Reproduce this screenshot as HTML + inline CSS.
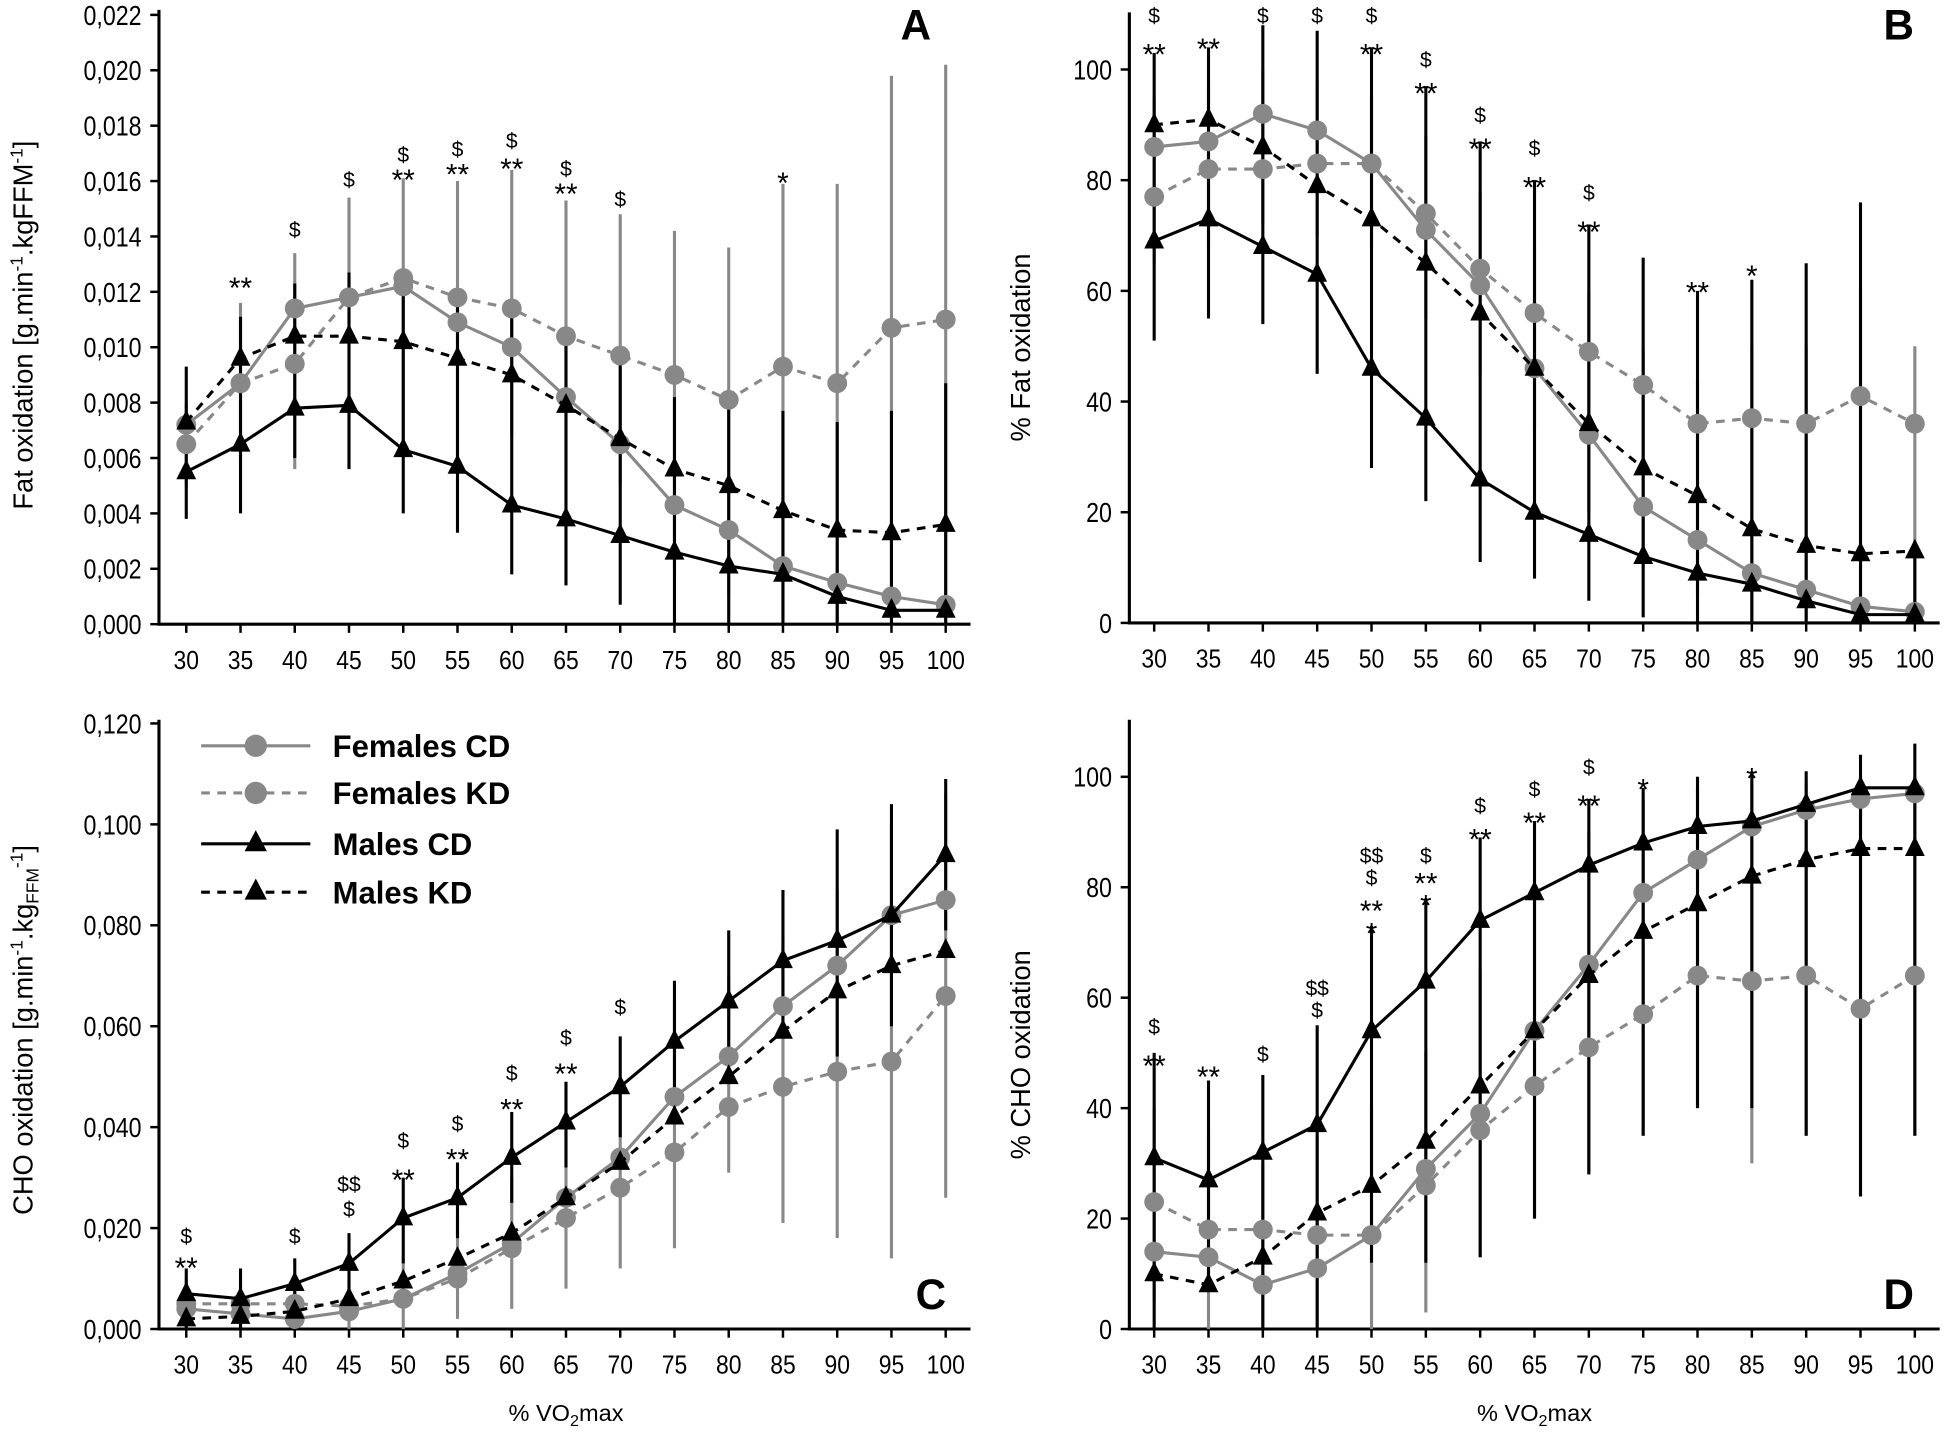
<!DOCTYPE html>
<html><head><meta charset="utf-8"><style>
html,body{margin:0;padding:0;background:#fff}
svg{display:block}
text{font-family:"Liberation Sans",sans-serif}
</style></head><body>
<svg id="fig" width="1946" height="1432" viewBox="0 0 1568 1154" xmlns="http://www.w3.org/2000/svg"></svg>
<script>
const xCats=[30,35,40,45,50,55,60,65,70,75,80,85,90,95,100];
// Panel A
const aFemCD=[0.0072,0.0087,0.0114,0.0118,0.0122,0.0109,0.0100,0.0082,0.0065,0.0043,0.0034,0.0021,0.0015,0.0010,0.0007];
const aFemKD=[0.0065,0.0087,0.0094,0.0118,0.0125,0.0118,0.0114,0.0104,0.0097,0.0090,0.0081,0.0093,0.0087,0.0107,0.0110];
const aMalCD=[0.0055,0.0065,0.0078,0.0079,0.0063,0.0057,0.0043,0.0038,0.0032,0.0026,0.0021,0.0018,0.0010,0.0005,0.0005];
const aMalKD=[0.0073,0.0096,0.0104,0.0104,0.0102,0.0096,0.0090,0.0079,0.0067,0.0056,0.0050,0.0041,0.0034,0.0033,0.0036];
const aGrayHi=[0.0080,0.0116,0.0134,0.0154,0.0161,0.0160,0.0164,0.0153,0.0148,0.0142,0.0136,0.0159,0.0159,0.0198,0.0202];
const aGrayLo=[0.0050,0.0060,0.0056,0.0056,0.0062,0.0060,0.0068,0.0055,0.0050,0.0020,0.0010,0,0,0,0];
const aBlkHi=[0.0093,0.0111,0.0123,0.0127,0.0125,0.0117,0.0114,0.0106,0.0094,0.0082,0.0080,0.0077,0.0073,0.0077,0.0087];
const aBlkLo=[0.0038,0.0040,0.0060,0.0056,0.0040,0.0033,0.0018,0.0014,0.0007,0,0,0,0,0,0];
const aAnnot=[[1,0.0124,'**'],[2,0.0143,'$'],[3,0.0161,'$'],[4,0.0170,'$'],[4,0.0163,'**'],[5,0.0172,'$'],[5,0.0165,'**'],[6,0.0175,'$'],[6,0.0167,'**'],[7,0.0165,'$'],[7,0.0158,'**'],[8,0.0154,'$'],[11,0.0162,'*']];
const aTicks=['0,000','0,002','0,004','0,006','0,008','0,010','0,012','0,014','0,016','0,018','0,020','0,022'];
// Panel B
const bFemCD=[86,87,92,89,83,71,61,46,34,21,15,9,6,3,2];
const bFemKD=[77,82,82,83,83,74,64,56,49,43,36,37,36,41,36];
const bMalCD=[69,73,68,63,46,37,26,20,16,12,9,7,4,1.5,1.5];
const bMalKD=[90,91,86,79,73,65,56,46,36,28,23,17,14,12.5,13];
const bGrayHi=[95,97,100,98,95,88,78,68,60,50,44,50,50,60,50];
const bGrayLo=[65,68,72,70,68,55,45,35,20,10,5,0,0,0,0];
const bBlkHi=[103,104,108,107,104,97,87,80,72,66,60,62,65,76,14];
const bBlkLo=[51,55,54,45,28,22,11,8,4,1,0,0,0,0,0];
const bAnnot=[[0,110,'$'],[0,104,'**'],[1,105,'**'],[2,110,'$'],[3,110,'$'],[4,110,'$'],[4,104,'**'],[5,102,'$'],[5,97,'**'],[6,92,'$'],[6,87,'**'],[7,86,'$'],[7,80,'**'],[8,78,'$'],[8,72,'**'],[10,61,'**'],[11,64,'*']];
const bTicks=['0','20','40','60','80','100'];
// Panel C
const cFemCD=[0.004,0.003,0.002,0.0035,0.006,0.011,0.017,0.026,0.034,0.046,0.054,0.064,0.072,0.082,0.085];
const cFemKD=[0.005,0.005,0.005,0.0045,0.006,0.010,0.016,0.022,0.028,0.035,0.044,0.048,0.051,0.053,0.066];
const cMalCD=[0.007,0.006,0.009,0.013,0.022,0.026,0.034,0.041,0.048,0.057,0.065,0.073,0.077,0.082,0.094];
const cMalKD=[0.002,0.0025,0.0035,0.006,0.0095,0.014,0.019,0.026,0.033,0.042,0.050,0.059,0.067,0.072,0.075];
const cGrayHi=[0.010,0.009,0.008,0.010,0.014,0.022,0.030,0.040,0.050,0.065,0.070,0.077,0.087,0.100,0.106];
const cGrayLo=[0,0,0,0,0,0.002,0.004,0.008,0.012,0.016,0.031,0.021,0.018,0.014,0.026];
const cBlkHi=[0.012,0.012,0.014,0.019,0.030,0.033,0.043,0.049,0.058,0.069,0.079,0.087,0.099,0.104,0.109];
const cBlkLo=[0,0,0.004,0.006,0.013,0.018,0.025,0.032,0.038,0.044,0.052,0.059,0.054,0.060,0.079];
const cAnnot=[[0,0.0187,'$'],[0,0.0135,'**'],[2,0.0187,'$'],[3,0.029,'$$'],[3,0.024,'$'],[4,0.0376,'$'],[4,0.031,'**'],[5,0.041,'$'],[5,0.035,'**'],[6,0.051,'$'],[6,0.045,'**'],[7,0.058,'$'],[7,0.052,'**'],[8,0.064,'$']];
const cTicks=['0,000','0,020','0,040','0,060','0,080','0,100','0,120'];
// Panel D
const dFemCD=[14,13,8,11,17,29,39,54,66,79,85,91,94,96,97];
const dFemKD=[23,18,18,17,17,26,36,44,51,57,64,63,64,58,64];
const dMalCD=[31,27,32,37,54,63,74,79,84,88,91,92,95,98,98];
const dMalKD=[10,8,13,21,26,34,44,54,64,72,77,82,85,87,87];
const dGrayHi=[40,35,30,35,40,50,65,80,90,96,98,99,99,100,100];
const dGrayLo=[5,0,0,0,0,3,13,20,28,35,40,30,35,24,35];
const dBlkHi=[50,45,46,55,73,78,89,92,96,98,100,101,101,104,106];
const dBlkLo=[0,8,0,0,12,12,13,20,28,35,40,40,35,24,35];
const dAnnot=[[0,55,'$'],[0,49,'**'],[1,47,'**'],[2,50,'$'],[3,62,'$$'],[3,58,'$'],[4,86,'$$'],[4,82,'$'],[4,77,'**'],[4,73,'*'],[5,86,'$'],[5,82,'**'],[5,78,'*'],[6,95,'$'],[6,90,'**'],[7,98,'$'],[7,93,'**'],[8,102,'$'],[8,96,'**'],[9,99,'*'],[11,101,'*']];
const dTicks=['0','20','40','60','80','100'];

const NS='http://www.w3.org/2000/svg';
const svg=document.getElementById('fig');
function mk(tag,attrs,parent){const e=document.createElementNS(NS,tag);for(const k in attrs)e.setAttribute(k,attrs[k]);(parent||svg).appendChild(e);return e;}

function panel(cfg){
  const g=mk('g',{});
  
  
  const xs=i=>cfg.x0+i*(cfg.x1-cfg.x0)/(xCats.length-1);
  const ys=v=>cfg.yb-(v/cfg.ymax)*(cfg.yb-cfg.yt);
  // axes
  const ax=mk('path',{d:`M${cfg.ax},${cfg.yt0} V${cfg.yb} H${cfg.axEnd}`,stroke:'#000','stroke-width':2.5,fill:'none'},g);
  
  
  cfg.ticks.forEach((t,i)=>{
    const v=i*cfg.step;const y=ys(v);
    mk('line',{x1:cfg.ax-7,x2:cfg.ax,y1:y,y2:y,stroke:'#000','stroke-width':2},g);
    const tx=mk('text',{x:cfg.ax-14,y:y+8,'text-anchor':'end','font-size':22,fill:'#000',transform:`translate(${cfg.ax-14},0) scale(0.85,1) translate(${-(cfg.ax-14)},0)`},g);
    tx.textContent=t;
    
    
  });
  xCats.forEach((c,i)=>{
    const x=xs(i);
    mk('line',{x1:x,x2:x,y1:cfg.yb,y2:cfg.yb+7,stroke:'#000','stroke-width':2},g);
    const tx=mk('text',{x:x,y:cfg.yb+36,'text-anchor':'middle','font-size':21,fill:'#000',transform:`translate(${x},0) scale(0.88,1) translate(${-x},0)`},g);
    tx.textContent=c;
    
    
  });
  // y title
  const yt=mk('text',{x:0,y:0,'text-anchor':'middle','font-size':22,fill:'#000',transform:`translate(${cfg.titleX},${cfg.titleY}) rotate(-90)`},g);
  yt.innerHTML=cfg.title;
  
  
  if(cfg.xtitle){
    const xt=mk('text',{x:(cfg.x0+cfg.x1)/2,y:cfg.yb+74,'text-anchor':'middle','font-size':19,fill:'#000'},g);
    xt.innerHTML='% VO<tspan font-size="13" dy="4">2</tspan><tspan dy="-4">max</tspan>';
    
    
  }
  const lt=mk('text',{x:cfg.letterX,y:cfg.letterY,'text-anchor':'middle','font-size':34,'font-weight':'bold',fill:'#000'},g);
  lt.textContent=cfg.letter;
  
  
  // error bars
  xCats.forEach((c,i)=>{
    const gb=mk('line',{x1:xs(i),x2:xs(i),y1:ys(cfg.gHi[i]),y2:ys(cfg.gLo[i]),stroke:'#888','stroke-width':2.5},g);
    
    
  });
  xCats.forEach((c,i)=>{
    const bb=mk('line',{x1:xs(i),x2:xs(i),y1:ys(cfg.bHi[i]),y2:ys(cfg.bLo[i]),stroke:'#000','stroke-width':2.5},g);
    
    
  });
  const series=[
    {d:cfg.fkd,col:'#888',dash:'7,6',m:'c',n:'females-kd'},
    {d:cfg.fcd,col:'#888',dash:'',m:'c',n:'females-cd'},
    {d:cfg.mkd,col:'#000',dash:'7,6',m:'t',n:'males-kd'},
    {d:cfg.mcd,col:'#000',dash:'',m:'t',n:'males-cd'}];
  series.forEach(s=>{
    const pts=s.d.map((v,i)=>xs(i)+','+ys(v)).join(' ');
    const pl=mk('polyline',{points:pts,fill:'none',stroke:s.col,'stroke-width':2.5,'stroke-dasharray':s.dash},g);
    
    
    s.d.forEach((v,i)=>{
      const x=xs(i),y=ys(v);let m;
      if(s.m==='c') m=mk('circle',{cx:x,cy:y,r:8,fill:'#888'},g);
      else m=mk('path',{d:`M${x},${y-10} L${x+8},${y+6} L${x-8},${y+6} Z`,fill:'#000'},g);
      
      
    });
  });
  cfg.annot.forEach(a=>{
    const t=mk('text',{x:xs(a[0]),y:ys(a[1])+(a[2].includes('*')?14:7),'text-anchor':'middle','font-size':a[2].includes('*')?24:17,fill:'#000'},g);
    t.textContent=a[2];
    
    
  });
}
panel({name:'panel-a',letter:'A',letterX:738,letterY:32,x0:150,x1:762,ax:128,axEnd:782,yt0:8,yt:12,yb:503,ymax:0.022,step:0.002,ticks:aTicks,
  title:'Fat oxidation [g.min<tspan font-size="14" dy="-8">-1</tspan><tspan dy="8">.kgFFM</tspan><tspan font-size="14" dy="-8">-1</tspan><tspan dy="8">]</tspan>',titleX:26,titleY:262,
  fcd:aFemCD,fkd:aFemKD,mcd:aMalCD,mkd:aMalKD,gHi:aGrayHi,gLo:aGrayLo,bHi:aBlkHi,bLo:aBlkLo,annot:aAnnot});
panel({name:'panel-b',letter:'B',letterX:1530,letterY:32,x0:930,x1:1543,ax:910,axEnd:1563,yt0:10,yt:56,yb:502,ymax:100,step:20,ticks:bTicks,
  title:'% Fat oxidation',titleX:830,titleY:280,
  fcd:bFemCD,fkd:bFemKD,mcd:bMalCD,mkd:bMalKD,gHi:bGrayHi,gLo:bGrayLo,bHi:bBlkHi,bLo:bBlkLo,annot:bAnnot});
panel({name:'panel-c',letter:'C',letterX:750,letterY:1055,x0:150,x1:762,ax:128,axEnd:782,yt0:580,yt:583,yb:1071,ymax:0.120,step:0.020,ticks:cTicks,xtitle:true,
  title:'CHO oxidation [g.min<tspan font-size="14" dy="-8">-1</tspan><tspan dy="8">.kg</tspan><tspan font-size="14" dy="5">FFM</tspan><tspan font-size="14" dy="-13">-1</tspan><tspan dy="8">]</tspan>',titleX:26,titleY:830,
  fcd:cFemCD,fkd:cFemKD,mcd:cMalCD,mkd:cMalKD,gHi:cGrayHi,gLo:cGrayLo,bHi:cBlkHi,bLo:cBlkLo,annot:cAnnot});
panel({name:'panel-d',letter:'D',letterX:1530,letterY:1055,x0:930,x1:1543,ax:910,axEnd:1563,yt0:580,yt:626,yb:1071,ymax:100,step:20,ticks:dTicks,xtitle:true,
  title:'% CHO oxidation',titleX:830,titleY:850,
  fcd:dFemCD,fkd:dFemKD,mcd:dMalCD,mkd:dMalKD,gHi:dGrayHi,gLo:dGrayLo,bHi:dBlkHi,bLo:dBlkLo,annot:dAnnot});
// legend
const legItems=[['Females CD','#888','','c',601],['Females KD','#888','7,6','c',639],['Males CD','#000','','t',680],['Males KD','#000','7,6','t',719]];
const lg=mk('g',{});


legItems.forEach(it=>{
  const e=mk('g',{},lg);
  
  
  mk('line',{x1:162,x2:250,y1:it[4],y2:it[4],stroke:it[1],'stroke-width':2.5,'stroke-dasharray':it[2]},e);
  if(it[3]==='c') mk('circle',{cx:206,cy:it[4],r:9,fill:'#888'},e);
  else mk('path',{d:`M206,${it[4]-11} L215,${it[4]+6} L197,${it[4]+6} Z`,fill:'#000'},e);
  const t=mk('text',{x:268,y:it[4]+9,'font-size':25,'font-weight':'bold',fill:'#000'},e);
  t.textContent=it[0];
});
</script>
</body></html>
